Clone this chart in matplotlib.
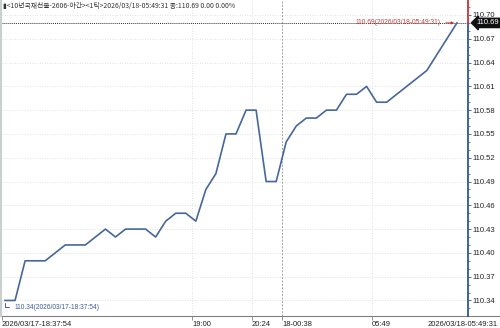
import matplotlib
matplotlib.use("Agg")
import matplotlib.pyplot as plt
import numpy as np

# ---- data ----
values = [110.34, 110.34, 110.39, 110.39, 110.39, 110.40, 110.41, 110.41, 110.41, 110.42,
          110.43, 110.42, 110.43, 110.43, 110.43, 110.42, 110.44, 110.45, 110.45, 110.44,
          110.48, 110.50, 110.55, 110.55, 110.58, 110.58, 110.49, 110.49, 110.54, 110.56,
          110.57, 110.57, 110.58, 110.58, 110.60, 110.60, 110.61, 110.59, 110.59, 110.60,
          110.61, 110.62, 110.63, 110.65, 110.67, 110.69]
ytick_values = [110.34, 110.37, 110.40, 110.43, 110.46, 110.49, 110.52, 110.55, 110.58,
                110.61, 110.64, 110.67, 110.70]
xtick_positions = [18.62, 24.59, 27.58, 36.54]
xtick_labels = ["19:00", "20:24", "18-00:38", "05:49"]
start_label = "2026/03/17-18:37:54"
end_label = "2026/03/18-05:49:31"
header = "▮<10년국채선물-2606-야간><1틱>2026/03/18-05:49:31 종:110.69 0.00 0.00%"
min_text = "110.34(2026/03/17-18:37:54)"
max_text = "110.69(2026/03/18-05:49:31)"

W, H = 500, 328
fig = plt.figure(figsize=(W / 100, H / 100), dpi=100)
fig.patch.set_facecolor("white")
ax = fig.add_axes([2 / W, 12 / H, 466 / W, 316 / H])

x = np.arange(len(values))
ax.set_xlim(-0.3, 46.1)
ax.set_ylim(110.3204, 110.7189)

small = ["Liberation Sans", "DejaVu Sans"]
cjk = ["Noto Sans CJK KR", "DejaVu Sans"]

# grid
for yv in ytick_values:
    ax.axhline(yv, color="#d8d8d8", lw=0.6, ls=(0, (1, 2)), zorder=0)
for i, xp in enumerate(xtick_positions):
    if xtick_labels[i].startswith("18-"):
        ax.axvline(xp, color="#a0a0a0", lw=0.7, ls=(0, (2, 1.5)), zorder=0)
    else:
        ax.axvline(xp, color="#d8d8d8", lw=0.6, ls=(0, (1, 2)), zorder=0)

# last value dotted line
last = values[-1]
ax.axhline(last, color="#333333", lw=0.7, ls=(0, (1, 1)), zorder=1)

# main line
ax.plot(x, values, color="#46679a", lw=1.2, zorder=3)

# spines
for s in ["top", "left"]:
    ax.spines[s].set_visible(False)
ax.spines["bottom"].set_color("#808080")
ax.spines["bottom"].set_linewidth(0.8)
ax.spines["right"].set_visible(False)
xr = ax.get_xlim()[1]
ax.plot([xr, xr], [ax.get_ylim()[0], last], color="#2f5597", lw=1.3, clip_on=False, zorder=4)
ax.plot([xr, xr], [last, ax.get_ylim()[1]], color="#d03030", lw=1.3, clip_on=False, zorder=4)

# y ticks on right
ax.yaxis.tick_right()
ax.set_yticks(ytick_values)
ax.set_yticklabels([f"{v:.2f}" for v in ytick_values], fontsize=5.5, family=small, color="#222222")
ax.set_yticks(np.arange(110.33, 110.715, 0.01), minor=True)
ax.tick_params(axis="y", which="major", length=2.5, width=0.6, pad=1, color="#2f5597")
ax.tick_params(axis="y", which="minor", length=1.5, width=0.5, color="#2f5597")

# x ticks
ax.set_xticks([ax.get_xlim()[0]] + xtick_positions)
ax.set_xticklabels([start_label] + xtick_labels, fontsize=5.5, family=small, color="#222222")
for lab in ax.get_xticklabels():
    lab.set_horizontalalignment("left")
ax.tick_params(axis="x", length=3, width=0.6, pad=0.5, color="#808080")
ax.annotate(end_label, xy=(1.0 + 30 / 466, 0), xycoords="axes fraction",
            xytext=(0, -3.5), textcoords="offset points", fontsize=5.5,
            family=small, color="#222222", ha="right", va="top", annotation_clip=False)
# extend bottom border to the figure edge
ax.plot([1.0, 1.0 + 32 / 466], [0, 0], transform=ax.transAxes, color="#808080", lw=0.8, clip_on=False)

# last value box
ax.annotate(f"{last:.2f}", xy=(1.0, last), xycoords=("axes fraction", "data"),
            xytext=(6, 0), textcoords="offset points", fontsize=5.5, family=small,
            color="white", ha="left", va="center", annotation_clip=False,
            bbox=dict(boxstyle="larrow,pad=0.15", fc="#111111", ec="#111111"))

# min annotation
imin = int(np.argmin(values))
ax.annotate(min_text, xy=(x[imin], values[imin]), xytext=(7, -5), textcoords="offset points",
            fontsize=4.8, family=small, color="#3d5f96", ha="left", va="center",
            arrowprops=dict(arrowstyle="-", color="#3d5f96", lw=0.7,
                            connectionstyle="angle,angleA=0,angleB=90,rad=0"))

# max annotation
imax = len(values) - 1
ax.annotate(max_text, xy=(x[imax], values[imax]), xytext=(-12, 0), textcoords="offset points",
            fontsize=4.8, family=small, color="#c04040", ha="right", va="center",
            arrowprops=dict(arrowstyle="-|>,head_length=0.3,head_width=0.15", color="#d03030", lw=0.7))

# header
fig.text(3 / W, 1 - 6 / H, header, fontsize=4.9, family=cjk, color="#333333", ha="left", va="center")

# left light border
fig.add_artist(plt.Line2D([0.5 / W, 0.5 / W], [12 / H, 1], color="#c8d0d0", lw=1.5))

fig.savefig("out.png", dpi=100)
